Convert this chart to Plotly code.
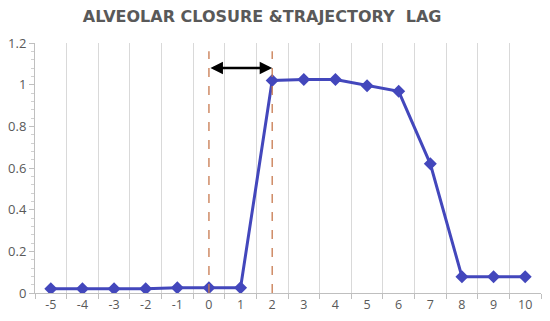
import plotly.graph_objects as go

# lag positions and measured values
lags = [-5, -4, -3, -2, -1, 0, 1, 2, 3, 4, 5, 6, 7, 8, 9, 10]
closure = [0.02, 0.02, 0.02, 0.02, 0.025, 0.025, 0.025, 1.02, 1.025, 1.025,
           0.995, 0.968, 0.62, 0.078, 0.078, 0.078]
marked_lags = [0, 2]      # dashed reference lines
arrow_level = 1.08        # height of the lag arrow
y_ticks = [0, 0.2, 0.4, 0.6, 0.8, 1, 1.2]

fig = go.Figure()

fig.add_trace(go.Scatter(
    x=lags, y=closure, mode="lines+markers",
    line=dict(color="#4347BC", width=3),
    marker=dict(symbol="diamond", size=10, color="#4347BC"),
    showlegend=False,
))

# dashed vertical lines at the marked lags
for v in marked_lags:
    fig.add_shape(type="line", x0=v, x1=v, y0=0, y1=1.16, xref="x", yref="y",
                  line=dict(color="#C8794F", width=1.3, dash="dash"))

# double-headed arrow between the two lines
fig.add_annotation(x=marked_lags[1], y=arrow_level, ax=marked_lags[0], ay=arrow_level,
                   xref="x", yref="y", axref="x", ayref="y", text="",
                   showarrow=True, arrowhead=2, arrowside="end+start",
                   arrowsize=1, arrowwidth=2.5, arrowcolor="black")

boundaries = [v - 0.5 for v in lags] + [lags[-1] + 0.5]

# page body adds 8px, so margins are shifted to compensate
fig.update_layout(
    width=550, height=321,
    margin=dict(l=27, r=17, t=35, b=36, autoexpand=False),
    paper_bgcolor="white", plot_bgcolor="white",
    font=dict(family="Open Sans", color="#595959", size=13),
    title=dict(text="<b>ALVEOLAR CLOSURE &amp;TRAJECTORY  LAG</b>",
               x=0.462, xanchor="center", y=0.975, yanchor="middle",
               font=dict(family="DejaVu Sans", size=16, color="#595959")),
)

fig.update_xaxes(
    range=[lags[0] - 0.5, lags[-1] + 0.5], automargin=False,
    tickmode="array", tickvals=lags, ticktext=[str(v) for v in lags],
    showgrid=False, zeroline=False,
    showline=True, linecolor="#BFBFBF", linewidth=1,
    ticks="", tickfont=dict(size=12.5, color="#595959"),
    minor=dict(tickmode="array", tickvals=boundaries, showgrid=True,
               gridcolor="#D9D9D9", gridwidth=1.3,
               ticks="outside", ticklen=5, tickcolor="#BFBFBF"),
)

fig.update_yaxes(
    range=[0, 1.2], automargin=False,
    tickmode="array", tickvals=y_ticks, ticktext=["0", "0.2", "0.4", "0.6", "0.8", "1", "1.2"],
    showgrid=False, zeroline=False,
    showline=True, linecolor="#BFBFBF", linewidth=1,
    ticks="outside", ticklen=5, tickcolor="#BFBFBF",
    tickfont=dict(size=13, color="#595959"),
    minor=dict(tickmode="linear", tick0=0, dtick=0.04, ticks="outside",
               ticklen=3, tickcolor="#D0D0D0"),
)

fig.write_html("out.html")
